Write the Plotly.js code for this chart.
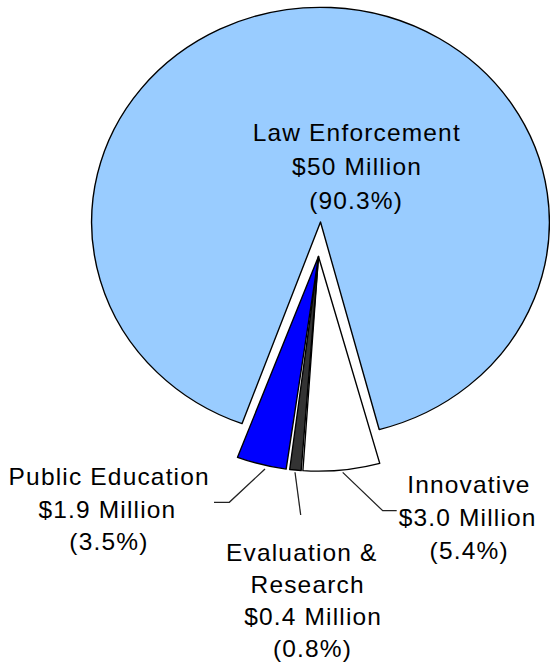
<!DOCTYPE html>
<html><head><meta charset="utf-8">
<script src="https://cdn.plot.ly/plotly-3.0.1.min.js"></script>
<style>
html,body{margin:0;padding:0;background:#fff;overflow:hidden;}
#chart{width:516px;height:663px;transform:scaleX(1.06589);transform-origin:0 0;}
svg text{letter-spacing:1.1px;}
</style></head><body><div id="chart"></div>
<script>
// ---- data ----
const categories = ["Law Enforcement", "Innovative", "Evaluation & Research", "Public Education"];
const nameLines = [["Law Enforcement"], ["Innovative"], ["Evaluation &", "Research"], ["Public Education"]];
const amountsMillion = [50, 3.0, 0.4, 1.9];
const percents = [90.3, 5.4, 0.8, 3.5];
const sliceColors = ["#99CCFF", "#FFFFFF", "#333333", "#0000FF"];

// ---- geometry / layout (screen px) ----
const W = 516, H = 663, SCREEN_W = 550;
const fx = X => X / SCREEN_W;
const fy = Y => 1 - Y / H;
const R = 214.7;
function domainFor(cx, cy, r, maxPull) {
  const hx = r * (1 + maxPull) / W, hy = r * (1 + maxPull) / H;
  return {x: [fx(cx) - hx, fx(cx) + hx], y: [fy(cy) - hy, fy(cy) + hy]};
}
const notchCenterAngle = 182.6;
const total = percents.reduce((a, b) => a + b, 0);
const deg = 360 / total;
const small = percents.slice(1).reduce((a, b) => a + b, 0);
const rotA = notchCenterAngle - (percents[0] + small / 2) * deg;
const CLEAR = 'rgba(0,0,0,0)';

const traceA = {
  type: 'pie', values: percents, labels: categories, sort: false, direction: 'clockwise',
  rotation: rotA, domain: domainFor(320.5, 222, R, 0),
  marker: {colors: percents.map((_, i) => i === 0 ? sliceColors[0] : CLEAR),
           line: {color: '#000', width: percents.map((_, i) => i === 0 ? 1.3 : 0)}},
  textinfo: 'none', hoverinfo: 'none', showlegend: false
};

const g1 = 0.25, g2 = 0.12; // small angular separations between the small wedges
const G = g1 + g2;
const bValues = [percents[0] - G, percents[1], g2, percents[2], g1, percents[3]];
const bLabels = [categories[0], categories[1], 'sep-a', categories[2], 'sep-b', categories[3]];
const bColors = [CLEAR, sliceColors[1], CLEAR, sliceColors[2], CLEAR, sliceColors[3]];
const bWidths = [0, 1.3, 0, 1.3, 0, 1.3];
const rotB = notchCenterAngle - (bValues[0] + (small + G) / 2) * deg;
const traceB = {
  type: 'pie', values: bValues, labels: bLabels, sort: false, direction: 'clockwise',
  rotation: rotB, domain: domainFor(318.5, 256.5, R, 0),
  marker: {colors: bColors, line: {color: '#000', width: bWidths}},
  textinfo: 'none', hoverinfo: 'none', showlegend: false
};

// label placement (screen px): line centre x, first baseline y, line step
const labelLayout = [
  {x: [357, 357.5, 356.5], y0: 140.7, dy: 34},
  {x: [469.5, 467.5, 468.5], y0: 493.3, dy: 32.5},
  {x: [302, 307.5, 313.5, 312.5], y0: 561, dy: 32},
  {x: [109.5, 108, 109], y0: 485, dy: 32.5}
];
const leaderLines = [
  null,
  [[342.7, 472.3], [382.7, 510.7], [396.7, 510.7]],
  [[295, 472.3], [300.7, 515]],
  [[265, 469], [229.3, 502.3], [214, 502.3]]
];

const fmtAmount = v => '$' + (v >= 10 ? v.toFixed(0) : v.toFixed(1)) + ' Million';
const fmtPct = p => '(' + p.toFixed(1) + '%)';
const FONT = {family: 'Liberation Sans, Arial, sans-serif', size: 23, color: '#000'};

const annotations = [];
categories.forEach((c, i) => {
  const L = labelLayout[i];
  const lines = [...nameLines[i], fmtAmount(amountsMillion[i]), fmtPct(percents[i])];
  lines.forEach((t, j) => {
    const baseline = L.y0 + j * L.dy;
    annotations.push({xref: 'paper', yref: 'paper', x: fx(L.x[j]), y: fy(baseline - 7.8),
      xanchor: 'center', yanchor: 'middle', text: t, showarrow: false, font: FONT,
      borderpad: 0, borderwidth: 0});
  });
});

const shapes = leaderLines.filter(p => p).map(pts => ({
  type: 'path', xref: 'paper', yref: 'paper',
  path: 'M' + pts.map(p => fx(p[0]) + ',' + fy(p[1])).join(' L'),
  line: {color: '#222', width: 1.2}
}));

Plotly.newPlot('chart', [traceA, traceB], {
  width: W, height: H, margin: {l: 0, r: 0, t: 0, b: 0, pad: 0},
  paper_bgcolor: '#fff', plot_bgcolor: '#fff', showlegend: false,
  annotations: annotations, shapes: shapes
}, {staticPlot: true, displayModeBar: false});
</script></body></html>
